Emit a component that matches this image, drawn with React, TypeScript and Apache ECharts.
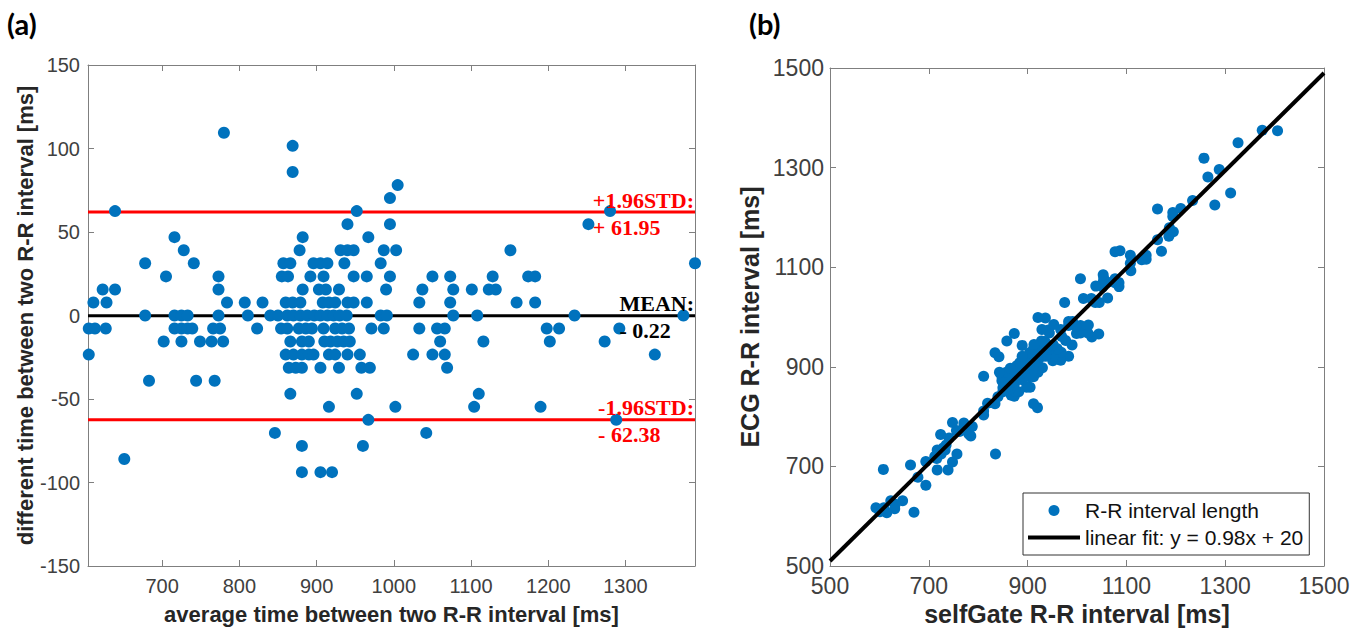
import React, { useEffect, useRef } from "react";
import * as echarts from "echarts";

// ---------- (a) Bland-Altman data ----------
const diffLevels = [
  109.4, 101.6, 85.9, 78.1, 70.3, 62.5, 54.7, 46.9, 39.1, 31.3, 23.4, 15.6, 7.8, 0,
  -7.8, -15.6, -23.4, -31.3, -39.1, -46.9, -54.7, -62.5, -70.3, -78.1, -85.9, -93.8,
];
const avgByLevel = [
  [780],
  [869],
  [869],
  [1005],
  [995],
  [639, 952, 1280],
  [940, 995, 1252],
  [716, 882, 967],
  [728, 878, 931, 940, 948, 987, 1003, 1151],
  [678, 741, 857, 866, 896, 905, 914, 936, 983, 1390],
  [705, 773, 855, 863, 892, 909, 948, 965, 995, 1050, 1073, 1128, 1174, 1183],
  [623, 639, 773, 882, 903, 912, 929, 990, 1037, 1077, 1101, 1123, 1132],
  [611, 628, 784, 807, 830, 860, 869, 879, 908, 916, 924, 940, 948, 965, 1033, 1073, 1159, 1183],
  [678, 716, 725, 733, 773, 811, 840, 850, 862, 870, 879, 888, 897, 905, 914, 922, 930, 939, 983, 991, 1077, 1108, 1234, 1375],
  [605, 613, 627, 716, 725, 733, 739, 766, 775, 823, 854, 862, 877, 886, 894, 909, 924, 933, 942, 971, 987, 1033, 1056, 1066, 1198, 1214, 1292],
  [702, 725, 749, 764, 779, 866, 881, 890, 910, 918, 927, 935, 943, 1060, 1116, 1202, 1273],
  [605, 860, 870, 881, 890, 896, 916, 924, 940, 956, 1025, 1050, 1066, 1338],
  [864, 873, 881, 905, 929, 958, 969, 1069],
  [683, 744, 768],
  [866, 952, 1110],
  [916, 1002, 1104, 1190],
  [967, 1288],
  [846, 1042],
  [881, 960],
  [651],
  [881, 905, 920],
];
const baXMin = 604;
const baXMax = 1390;
const baXTicks = [700, 800, 900, 1000, 1100, 1200, 1300];
const upperLoA = 61.95;
const meanDiff = -0.22;
const lowerLoA = -62.38;
const refLabels = [
  { value: upperLoA, head: "+1.96STD:", tail: "+ 61.95", color: "#ff0000" },
  { value: meanDiff, head: "MEAN:", tail: "- 0.22", color: "#000000" },
  { value: lowerLoA, head: "-1.96STD:", tail: "- 62.38", color: "#ff0000" },
];

// ---------- (b) correlation data ----------
const selfGateRR = [
  835, 920, 912, 1044, 1030,
  670, 983, 1311,
  967, 1022, 1279,
  739, 905, 990,
  748, 898, 951, 960, 968, 1007, 1023, 1171,
  694, 757, 873, 882, 912, 921, 930, 952, 999, 1406,
  717, 785, 867, 875, 904, 921, 960, 977, 1007, 1062, 1085, 1140, 1186, 1195,
  631, 647, 781, 890, 911, 920, 937, 998, 1045, 1085, 1109, 1131, 1140,
  615, 632, 788, 811, 834, 864, 873, 883, 912, 920, 928, 944, 952, 969, 1037, 1077, 1163, 1187,
  678, 716, 725, 733, 773, 811, 840, 850, 862, 870, 879, 888, 897, 905, 914, 922, 930, 939, 983, 991, 1077, 1108, 1234, 1375,
  601, 609, 623, 712, 721, 729, 735, 762, 771, 819, 850, 858, 873, 882, 890, 905, 920, 929, 938, 967, 983, 1029, 1052, 1062, 1194, 1210, 1288,
  694, 717, 741, 756, 771, 858, 873, 882, 902, 910, 919, 927, 935, 1052, 1108, 1194, 1265,
  593, 848, 858, 869, 878, 884, 904, 912, 928, 944, 1013, 1038, 1054, 1326,
  848, 857, 865, 889, 913, 942, 953, 1053,
  663, 724, 748,
  843, 929, 1087,
  889, 975, 1077, 1163,
  936, 1257,
  811, 1007,
  842, 921,
  608,
  834, 858, 873,
];
const ecgRR = [
  725, 818, 826, 966, 960,
  608, 921, 1249,
  913, 968, 1225,
  693, 859, 944,
  709, 859, 912, 921, 929, 968, 984, 1132,
  662, 725, 841, 850, 880, 889, 898, 920, 967, 1374,
  693, 761, 843, 851, 880, 897, 936, 953, 983, 1038, 1061, 1116, 1162, 1171,
  615, 631, 765, 874, 895, 904, 921, 982, 1029, 1069, 1093, 1115, 1124,
  607, 624, 780, 803, 826, 856, 865, 875, 904, 912, 920, 936, 944, 961, 1029, 1069, 1155, 1179,
  678, 716, 725, 733, 773, 811, 840, 850, 862, 870, 879, 888, 897, 905, 914, 922, 930, 939, 983, 991, 1077, 1108, 1234, 1375,
  609, 617, 631, 720, 729, 737, 743, 770, 779, 827, 858, 866, 881, 890, 898, 913, 928, 937, 946, 975, 991, 1037, 1060, 1070, 1202, 1218, 1296,
  710, 733, 757, 772, 787, 874, 889, 898, 918, 926, 935, 943, 951, 1068, 1124, 1210, 1281,
  617, 872, 882, 893, 902, 908, 928, 936, 952, 968, 1037, 1062, 1078, 1350,
  880, 889, 897, 921, 945, 974, 985, 1085,
  703, 764, 788,
  889, 975, 1133,
  943, 1029, 1131, 1217,
  998, 1319,
  881, 1077,
  920, 999,
  694,
  928, 952, 967,
];
const fitX = [500, 1500];
const fitY = [510, 1490];
const scatterName = "R-R interval length";
const fitName = "linear fit: y = 0.98x + 20";

const BLUE = "#0072BD";
const SANS = "Liberation Sans";
const SERIF_BOLD = "bold 22px Liberation Serif";
const AXIS_COLOR = "#7f7f7f";
const LABEL_COLOR = "#404040";
const NAME_COLOR = "#262626";
const plain = (v: number) => String(v);

function measure(text: string, font: string): number {
  const ctx = document.createElement("canvas").getContext("2d");
  if (!ctx) return text.length * 11;
  ctx.font = font;
  return ctx.measureText(text).width;
}

export default function App() {
  const ref = useRef<HTMLDivElement>(null);

  useEffect(() => {
    if (!ref.current) return;
    const chart = echarts.init(ref.current, undefined, { renderer: "svg" });

    const baData: number[][] = [];
    diffLevels.forEach((d, i) => avgByLevel[i].forEach((a) => baData.push([a, d])));
    const corrData = selfGateRR.map((s, i) => [s, ecgRR[i]]);

    const lineStyle = { color: AXIS_COLOR, width: 1 };
    const hiddenAxis = (gridIndex: number, position: string, extra: any) => ({
      gridIndex,
      type: "value",
      position,
      axisLine: { show: true, onZero: false, lineStyle },
      axisLabel: { show: false },
      splitLine: { show: false },
      ...extra,
    });

    chart.setOption({
      animation: false,
      backgroundColor: "#ffffff",
      textStyle: { fontFamily: SANS },
      grid: [
        { left: 88, top: 65, width: 607, height: 501 },
        { left: 830, top: 68, width: 494, height: 498 },
      ],
      xAxis: [
        {
          gridIndex: 0,
          type: "value",
          min: baXMin,
          max: baXMax,
          position: "bottom",
          axisLine: { show: true, onZero: false, lineStyle },
          axisTick: { show: true, inside: true, length: 6, customValues: baXTicks, lineStyle },
          axisLabel: { customValues: baXTicks, formatter: plain, fontSize: 20, color: LABEL_COLOR, fontFamily: SANS, margin: 10 },
          splitLine: { show: false },
          name: "average time between two R-R interval [ms]",
          nameLocation: "middle",
          nameGap: 37,
          nameTextStyle: { fontSize: 22, fontWeight: "bold", color: NAME_COLOR, fontFamily: SANS },
        },
        hiddenAxis(0, "top", {
          min: baXMin,
          max: baXMax,
          axisTick: { show: true, inside: true, length: 6, customValues: baXTicks, lineStyle },
        }),
        {
          gridIndex: 1,
          type: "value",
          min: 500,
          max: 1500,
          interval: 200,
          position: "bottom",
          axisLine: { show: true, onZero: false, lineStyle },
          axisTick: { show: true, inside: true, length: 6, lineStyle },
          axisLabel: { formatter: plain, fontSize: 23, color: LABEL_COLOR, fontFamily: SANS, margin: 8 },
          splitLine: { show: false },
          name: "selfGate R-R interval [ms]",
          nameLocation: "middle",
          nameGap: 33,
          nameTextStyle: { fontSize: 25, fontWeight: "bold", color: NAME_COLOR, fontFamily: SANS },
        },
        hiddenAxis(1, "top", {
          min: 500,
          max: 1500,
          interval: 200,
          axisTick: { show: true, inside: true, length: 6, lineStyle },
        }),
      ],
      yAxis: [
        {
          gridIndex: 0,
          type: "value",
          min: -150,
          max: 150,
          interval: 50,
          position: "left",
          axisLine: { show: true, onZero: false, lineStyle },
          axisTick: { show: true, inside: true, length: 6, lineStyle },
          axisLabel: { formatter: plain, fontSize: 20, color: LABEL_COLOR, fontFamily: SANS, margin: 8 },
          splitLine: { show: false },
          name: "different time between two R-R interval [ms]",
          nameLocation: "middle",
          nameGap: 52,
          nameTextStyle: { fontSize: 22, fontWeight: "bold", color: NAME_COLOR, fontFamily: SANS },
        },
        hiddenAxis(0, "right", {
          min: -150,
          max: 150,
          interval: 50,
          axisTick: { show: true, inside: true, length: 6, lineStyle },
        }),
        {
          gridIndex: 1,
          type: "value",
          min: 500,
          max: 1500,
          interval: 200,
          position: "left",
          axisLine: { show: true, onZero: false, lineStyle },
          axisTick: { show: true, inside: true, length: 6, lineStyle },
          axisLabel: { formatter: plain, fontSize: 23, color: LABEL_COLOR, fontFamily: SANS, margin: 6 },
          splitLine: { show: false },
          name: "ECG R-R interval [ms]",
          nameLocation: "middle",
          nameGap: 68,
          nameTextStyle: { fontSize: 25, fontWeight: "bold", color: NAME_COLOR, fontFamily: SANS },
        },
        hiddenAxis(1, "right", {
          min: 500,
          max: 1500,
          interval: 200,
          axisTick: { show: true, inside: true, length: 6, lineStyle },
        }),
      ],
      legend: {
        data: [
          { name: scatterName, icon: "circle", itemStyle: { color: BLUE } },
          { name: fitName, icon: "path://M0 0H52V4H0Z", itemStyle: { color: "#000000" } },
        ],
        orient: "vertical",
        left: 1023,
        top: 493,
        itemWidth: 52,
        itemHeight: 11,
        itemGap: 6,
        padding: [7, 6, 7, 5],
        borderColor: "#333333",
        borderWidth: 1,
        backgroundColor: "#ffffff",
        selectedMode: false,
        textStyle: { fontSize: 21, color: "#111111", fontFamily: SANS },
      },
      series: [
        ...refLabels.map((r) => ({
          type: "line",
          xAxisIndex: 0,
          yAxisIndex: 0,
          data: [
            [baXMin, r.value],
            [baXMax, r.value],
          ],
          symbol: "none",
          silent: true,
          z: 2,
          lineStyle: { color: r.color, width: 3 },
        })),
        {
          type: "scatter",
          xAxisIndex: 0,
          yAxisIndex: 0,
          data: baData,
          symbolSize: 12,
          itemStyle: { color: BLUE, opacity: 1 },
          z: 3,
        },
        {
          type: "scatter",
          name: scatterName,
          xAxisIndex: 2,
          yAxisIndex: 2,
          data: corrData,
          symbolSize: 11,
          itemStyle: { color: BLUE, opacity: 1 },
          z: 2,
        },
        {
          type: "line",
          name: fitName,
          xAxisIndex: 2,
          yAxisIndex: 2,
          data: fitX.map((x, i) => [x, fitY[i]]),
          symbol: "none",
          z: 3,
          lineStyle: { color: "#000000", width: 4 },
          itemStyle: { color: "#000000" },
        },
      ],
    });

    // annotations attached to the reference lines
    const graphics: any[] = [];
    refLabels.forEach((r) => {
      const p = chart.convertToPixel({ xAxisIndex: 0, yAxisIndex: 0 }, [baXMax, r.value]) as number[];
      const w = measure(r.head, SERIF_BOLD);
      const x0 = p[0] - w - 1;
      graphics.push({
        type: "text",
        x: x0,
        y: p[1] - 12,
        z: 10,
        style: { text: r.head, font: SERIF_BOLD, fill: r.color, align: "left", verticalAlign: "middle" },
      });
      graphics.push({
        type: "text",
        x: x0,
        y: p[1] + 15,
        z: 10,
        style: { text: r.tail, font: SERIF_BOLD, fill: r.color, align: "left", verticalAlign: "middle" },
      });
    });
    graphics.push({
      type: "text",
      left: 7,
      top: 9,
      style: { text: "(a)", font: "bold 29px Lato", fill: "#000" },
    });
    graphics.push({
      type: "text",
      left: 749,
      top: 9,
      style: { text: "(b)", font: "bold 29px Lato", fill: "#000" },
    });
    chart.setOption({ graphic: graphics });

    return () => chart.dispose();
  }, []);

  return (
    <div
      ref={ref}
      style={{ position: "fixed", left: 0, top: 0, width: 1368, height: 643, background: "#fff" }}
    />
  );
}
